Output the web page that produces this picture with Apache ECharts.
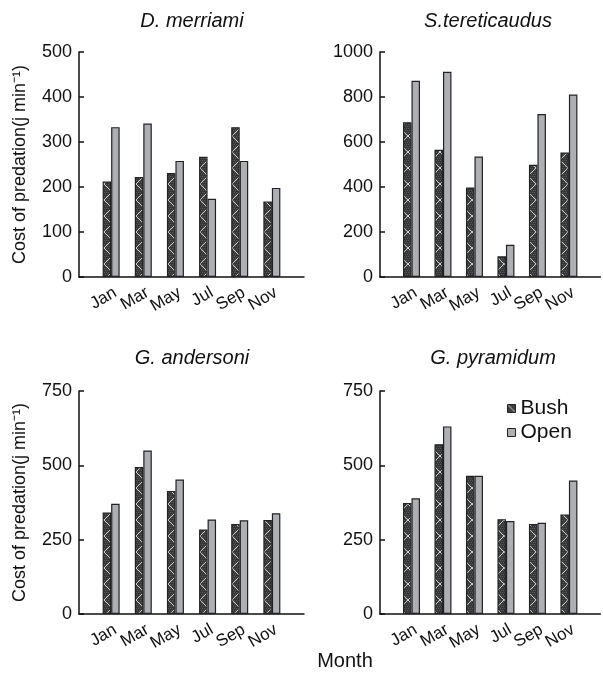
<!DOCTYPE html>
<html>
<head>
<meta charset="utf-8">
<script src="https://cdn.jsdelivr.net/npm/echarts@6/dist/echarts.min.js"></script>
<style>html,body{margin:0;padding:0;background:#fff}#c{width:603px;height:679px}</style>
</head>
<body>
<div id="c"></div>
<script>
const months = ['Jan', 'Mar', 'May', 'Jul', 'Sep', 'Nov'];
const panelTitles = ['D. merriami', 'S.tereticaudus', 'G. andersoni', 'G. pyramidum'];
const merriamiBush = [212, 222, 231, 267, 333, 168];
const merriamiOpen = [333, 341, 258, 174, 258, 198];
const tereticaudusBush = [688, 565, 398, 92, 499, 553];
const tereticaudusOpen = [872, 912, 535, 143, 724, 811];
const andersoniBush = [341, 494, 414, 284, 303, 316];
const andersoniOpen = [371, 550, 452, 318, 315, 339];
const pyramidumBush = [373, 571, 465, 319, 303, 335];
const pyramidumOpen = [389, 631, 465, 313, 307, 449];
const yMax = [500, 1000, 750, 750];
const yInterval = [100, 200, 250, 250];
const yName = 'Cost of predation(j min\u207B\u00B9)';

// hatch pattern for Bush bars
const pat = document.createElement('canvas');
pat.width = 16; pat.height = 16;
const pc = pat.getContext('2d');
pc.fillStyle = '#363636';
pc.fillRect(0, 0, 16, 16);
pc.fillStyle = '#5a5a5a';
for (let y = 0; y < 16; y += 2) for (let x = (y / 2) % 2; x < 16; x += 2) pc.fillRect(x, y, 1, 1);
pc.strokeStyle = 'rgba(255,255,255,0.85)';
pc.lineWidth = 0.9;
pc.beginPath();
pc.moveTo(0, 0); pc.lineTo(16, 16);
pc.moveTo(16, 0); pc.lineTo(0, 16);
pc.stroke();

const bushColor = { image: pat, repeat: 'repeat' };
const openColor = '#adafb3';
const font = 'Liberation Sans, Arial, Helvetica, sans-serif';

const bushData = [merriamiBush, tereticaudusBush, andersoniBush, pyramidumBush];
const openData = [merriamiOpen, tereticaudusOpen, andersoniOpen, pyramidumOpen];
const pad = arr => [null, ...arr, null];
const cats = ['', ...months, ''];

const grids = [
  { left: 79, top: 52, width: 225, height: 225 },
  { left: 380, top: 52, width: 224, height: 225 },
  { left: 79, top: 391, width: 225, height: 223 },
  { left: 380, top: 391, width: 224, height: 223 }
];
const titlePos = [[187, 6], [483, 6], [187, 343], [488, 343]];

const chart = echarts.init(document.getElementById('c'));
const option = {
  animation: false,
  backgroundColor: '#fff',
  textStyle: { fontFamily: font },
  title: panelTitles.map((t, i) => ({
    text: t, left: titlePos[i][0], top: titlePos[i][1], textAlign: 'center',
    textStyle: { fontFamily: font, fontStyle: 'italic', fontWeight: 'normal', fontSize: 20, color: '#111' }
  })).concat([{
    text: 'Month', left: 340, top: 646, textAlign: 'center',
    textStyle: { fontFamily: font, fontWeight: 'normal', fontSize: 20, color: '#111' }
  }]),
  legend: {
    orient: 'vertical', left: 507, top: 398, itemWidth: 8, itemHeight: 8, itemGap: 3,
    padding: 0, icon: 'rect',
    itemStyle: { borderColor: '#222', borderWidth: 1 },
    textStyle: { fontFamily: font, fontSize: 21, color: '#111' },
    data: ['Bush', 'Open']
  },
  grid: grids,
  xAxis: grids.map((g, i) => ({
    gridIndex: i, type: 'category', data: cats, boundaryGap: false,
    axisLine: { lineStyle: { color: '#111', width: 1.5 } },
    axisTick: { show: false },
    axisLabel: { interval: 0, rotate: 30, margin: 7, verticalAlign: 'top', fontSize: 17, color: '#111', fontFamily: font },
    splitLine: { show: false }
  })),
  yAxis: grids.map((g, i) => ({
    gridIndex: i, type: 'value', min: 0, max: yMax[i], interval: yInterval[i],
    name: i % 2 === 0 ? yName : '', nameLocation: 'middle', nameGap: 50,
    nameTextStyle: { fontSize: 18, color: '#111', fontFamily: font },
    axisLine: { show: true, lineStyle: { color: '#111', width: 1.5 } },
    axisTick: { show: true, inside: true, length: 5, lineStyle: { color: '#111', width: 1.5 } },
    axisLabel: { fontSize: 18, color: '#111', margin: 7, fontFamily: font, formatter: v => String(v) },
    splitLine: { show: false }
  })),
  series: [].concat(...grids.map((g, i) => [
    {
      name: 'Bush', type: 'bar', xAxisIndex: i, yAxisIndex: i, data: pad(bushData[i]),
      barWidth: 8.5, barGap: '0%',
      itemStyle: { color: bushColor, borderColor: '#222', borderWidth: 1.2 }
    },
    {
      name: 'Open', type: 'bar', xAxisIndex: i, yAxisIndex: i, data: pad(openData[i]),
      barWidth: 8.5, barGap: '0%',
      itemStyle: { color: openColor, borderColor: '#222', borderWidth: 1.2 }
    }
  ]))
};
chart.setOption(option);
</script>
</body>
</html>
